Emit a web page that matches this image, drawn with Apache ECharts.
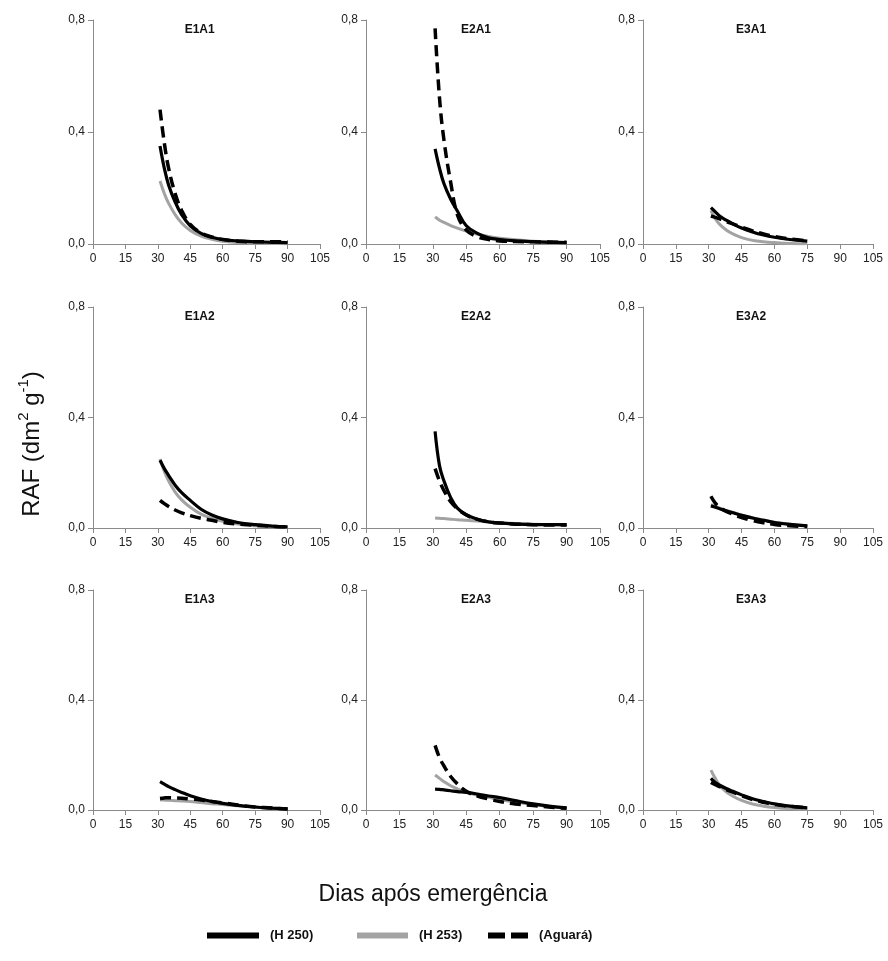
<!DOCTYPE html>
<html>
<head>
<meta charset="utf-8">
<script src="https://cdn.jsdelivr.net/npm/echarts@6/dist/echarts.min.js"></script>
<style>
  html, body { margin: 0; padding: 0; background: #fff; }
  #chart { width: 888px; height: 961px; }
</style>
</head>
<body>
<div id="chart"></div>
<script>
// --- dados ---
const painel = ['E1A1', 'E2A1', 'E3A1', 'E1A2', 'E2A2', 'E3A2', 'E1A3', 'E2A3', 'E3A3'];
const dias90 = [31, 33, 35, 38, 41, 45, 50, 55, 60, 67, 75, 83, 90];
const dias75 = [31, 33, 35, 38, 41, 45, 50, 55, 60, 67, 75];
const xTicks = [0, 15, 30, 45, 60, 75, 90, 105];
const yTicks = [0, 0.4, 0.8];

// RAF por painel (mesma ordem de "painel")
const rafH250 = [
  [0.35, 0.27, 0.21, 0.15, 0.105, 0.065, 0.038, 0.024, 0.016, 0.011, 0.008, 0.006, 0.005],
  [0.34, 0.27, 0.215, 0.16, 0.118, 0.065, 0.038, 0.022, 0.016, 0.011, 0.008, 0.006, 0.005],
  [0.13, 0.115, 0.10, 0.085, 0.072, 0.057, 0.043, 0.032, 0.024, 0.016, 0.01],
  [0.245, 0.215, 0.19, 0.155, 0.128, 0.10, 0.068, 0.047, 0.033, 0.02, 0.012, 0.007, 0.004],
  [0.35, 0.225, 0.17, 0.11, 0.072, 0.048, 0.032, 0.022, 0.018, 0.014, 0.012, 0.012, 0.012],
  [0.08, 0.075, 0.07, 0.062, 0.055, 0.046, 0.036, 0.028, 0.02, 0.013, 0.008],
  [0.103, 0.094, 0.085, 0.074, 0.064, 0.052, 0.04, 0.031, 0.024, 0.017, 0.011, 0.007, 0.004],
  [0.076, 0.075, 0.073, 0.07, 0.067, 0.064, 0.058, 0.051, 0.045, 0.034, 0.022, 0.013, 0.008],
  [0.115, 0.1, 0.09, 0.078, 0.068, 0.055, 0.041, 0.031, 0.022, 0.014, 0.008]
];
const rafH253 = [
  [0.225, 0.18, 0.145, 0.105, 0.075, 0.048, 0.028, 0.017, 0.01, 0.005, 0.003, 0.002, 0.001],
  [0.097, 0.085, 0.077, 0.066, 0.057, 0.046, 0.035, 0.027, 0.021, 0.015, 0.01, 0.007, 0.005],
  [0.12, 0.09, 0.07, 0.05, 0.036, 0.023, 0.013, 0.008, 0.005, 0.002, 0.001],
  [0.25, 0.205, 0.17, 0.13, 0.102, 0.075, 0.05, 0.035, 0.024, 0.014, 0.008, 0.005, 0.003],
  [0.036, 0.035, 0.034, 0.032, 0.03, 0.028, 0.025, 0.022, 0.019, 0.016, 0.014, 0.012, 0.011],
  [0.085, 0.078, 0.072, 0.064, 0.057, 0.047, 0.037, 0.029, 0.021, 0.014, 0.008],
  [0.037, 0.036, 0.035, 0.034, 0.033, 0.031, 0.027, 0.023, 0.02, 0.015, 0.01, 0.006, 0.004],
  [0.127, 0.115, 0.103, 0.088, 0.077, 0.064, 0.054, 0.046, 0.038, 0.029, 0.02, 0.012, 0.006],
  [0.145, 0.115, 0.09, 0.066, 0.05, 0.035, 0.022, 0.014, 0.009, 0.005, 0.003]
];
const rafAguara = [
  [0.48, 0.36, 0.27, 0.18, 0.12, 0.07, 0.04, 0.025, 0.016, 0.01, 0.008, 0.008, 0.008],
  [0.77, 0.52, 0.37, 0.22, 0.105, 0.05, 0.026, 0.016, 0.011, 0.009, 0.008, 0.007, 0.006],
  [0.10, 0.095, 0.09, 0.08, 0.072, 0.06, 0.047, 0.036, 0.027, 0.018, 0.011],
  [0.10, 0.088, 0.078, 0.065, 0.055, 0.045, 0.035, 0.028, 0.02, 0.014, 0.01, 0.006, 0.004],
  [0.215, 0.17, 0.135, 0.095, 0.07, 0.047, 0.031, 0.022, 0.018, 0.014, 0.012, 0.011, 0.011],
  [0.115, 0.09, 0.075, 0.06, 0.05, 0.038, 0.027, 0.019, 0.013, 0.008, 0.005],
  [0.042, 0.044, 0.045, 0.044, 0.043, 0.04, 0.036, 0.031, 0.026, 0.018, 0.011, 0.007, 0.004],
  [0.235, 0.19, 0.16, 0.122, 0.095, 0.068, 0.051, 0.04, 0.031, 0.022, 0.016, 0.01, 0.006],
  [0.10, 0.092, 0.085, 0.074, 0.065, 0.052, 0.038, 0.028, 0.02, 0.013, 0.008]
];

// --- layout dos painéis ---
const colLeft = [93, 366, 643];
const colWidth = [227, 234, 230];
const rowTop = [20, 307, 590];
const rowHeight = [224, 221, 220];

const chart = echarts.init(document.getElementById('chart'));
const fonte = '"Liberation Sans", Arial, sans-serif';
const eixoCor = '#8a8a8a';

const grids = [], xAxes = [], yAxes = [], series = [], graphics = [];

painel.forEach((nome, i) => {
  const r = Math.floor(i / 3), c = i % 3;
  const dias = c === 2 ? dias75 : dias90;
  grids.push({ left: colLeft[c], top: rowTop[r], width: colWidth[c], height: rowHeight[r] });
  xAxes.push({
    type: 'value', gridIndex: i, min: xTicks[0], max: xTicks[xTicks.length - 1], interval: 15,
    axisLine: { show: true, lineStyle: { color: eixoCor, width: 1 } },
    axisTick: { show: true, inside: false, length: 5, lineStyle: { color: eixoCor } },
    axisLabel: { fontSize: 12, color: '#222', fontFamily: fonte, margin: 9 },
    splitLine: { show: false }
  });
  yAxes.push({
    type: 'value', gridIndex: i, min: yTicks[0], max: yTicks[yTicks.length - 1], interval: 0.4,
    axisLine: { show: true, lineStyle: { color: eixoCor, width: 1 } },
    axisTick: { show: true, inside: false, length: 5, lineStyle: { color: eixoCor } },
    axisLabel: {
      fontSize: 12, color: '#222', fontFamily: fonte, margin: 8,
      formatter: v => v.toFixed(1).replace('.', ',')
    },
    splitLine: { show: false }
  });

  const linha = (name, vals, lineStyle) => ({
    name, type: 'line', xAxisIndex: i, yAxisIndex: i,
    data: dias.map((d, k) => [d, vals[k]]),
    smooth: 0.4, symbol: 'none', silent: true,
    lineStyle, itemStyle: { color: lineStyle.color }
  });
  series.push(linha('(H 253)', rafH253[i], { color: '#a3a3a3', width: 3 }));
  series.push(linha('(H 250)', rafH250[i], { color: '#000', width: 3.2 }));
  series.push(linha('(Aguará)', rafAguara[i], { color: '#000', width: 3.5, type: [11, 6] }));

  // título do painel
  graphics.push({
    type: 'text', x: colLeft[c] + colWidth[c] * 0.47, y: rowTop[r] + 10,
    style: {
      text: nome, fontSize: 12, fontWeight: 'bold', fontFamily: fonte, fill: '#111',
      align: 'center', verticalAlign: 'middle'
    }
  });
});

// rótulos dos eixos gerais
graphics.push({
  type: 'text', x: 30, y: 444, rotation: Math.PI / 2,
  style: {
    text: '{a|RAF (dm}{s|2}{a| g}{s|-1}{a|)}',
    align: 'center', verticalAlign: 'middle', fill: '#111',
    rich: {
      a: { fontSize: 24, fontFamily: fonte, lineHeight: 28, verticalAlign: 'bottom', fill: '#111' },
      s: { fontSize: 15, fontFamily: fonte, lineHeight: 28, verticalAlign: 'top', fill: '#111' }
    }
  }
});
graphics.push({
  type: 'text', x: 433, y: 895,
  style: {
    text: 'Dias após emergência', fontSize: 23, fontFamily: fonte, fill: '#111',
    align: 'center', verticalAlign: 'middle'
  }
});

const legendaBase = {
  top: 924, orient: 'horizontal', itemHeight: 6, selectedMode: false,
  textStyle: { fontSize: 13, fontWeight: 'bold', fontFamily: fonte, color: '#111', padding: [0, 0, 0, 6] }
};

chart.setOption({
  backgroundColor: '#fff',
  animation: false,
  grid: grids,
  xAxis: xAxes,
  yAxis: yAxes,
  series: series,
  graphic: graphics,
  legend: [
    Object.assign({}, legendaBase, { left: 202, data: ['(H 250)'], itemWidth: 52,
      icon: 'path://M0,0H52V6H0Z' }),
    Object.assign({}, legendaBase, { left: 352, data: ['(H 253)'], itemWidth: 51,
      icon: 'path://M0,0H51V6H0Z' }),
    Object.assign({}, legendaBase, { left: 483, data: ['(Aguará)'], itemWidth: 40,
      icon: 'path://M0,0H17V6H0Z M23,0H40V6H23Z' })
  ]
});
</script>
</body>
</html>
